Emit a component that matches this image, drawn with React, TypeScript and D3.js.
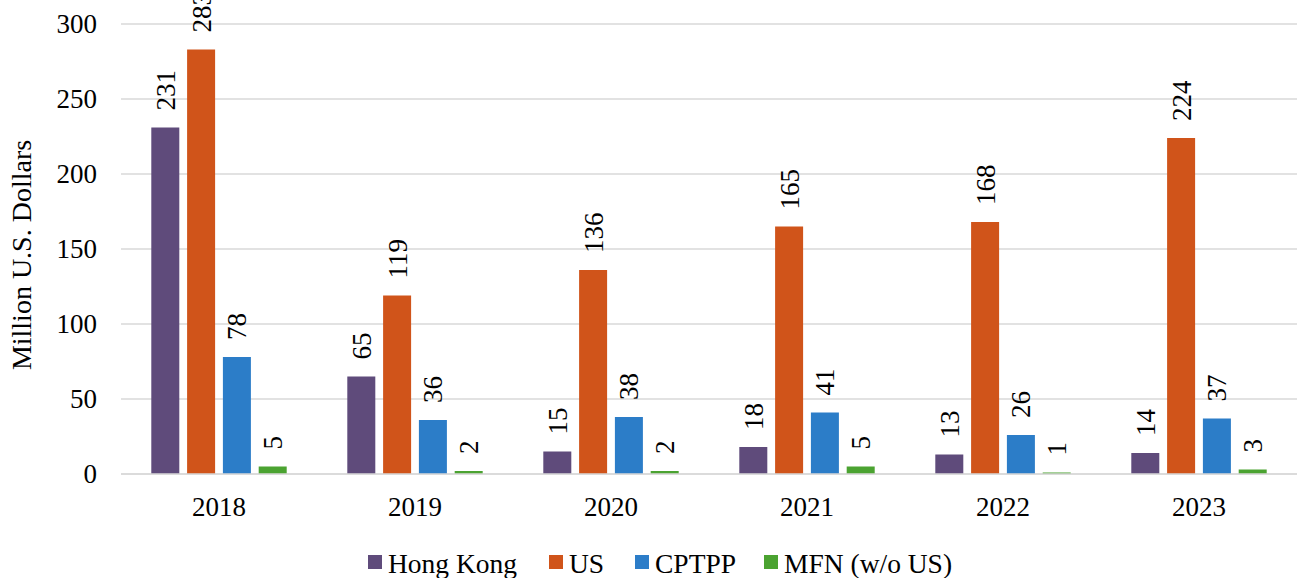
import React from "react";
import * as d3 from "d3";

const years = ["2018", "2019", "2020", "2021", "2022", "2023"];
const seriesNames = ["Hong Kong", "US", "CPTPP", "MFN (w/o US)"];
const hongKong = [231, 65, 15, 18, 13, 14];
const us = [283, 119, 136, 165, 168, 224];
const cptpp = [78, 36, 38, 41, 26, 37];
const mfn = [5, 2, 2, 5, 1, 3];
const colors = ["#5F4B7B", "#D0541A", "#2C7DC8", "#4BA331"];
const yTicks = [0, 50, 100, 150, 200, 250, 300];

export default function App() {
  const W = 1298, H = 578;
  const left = 121, right = 1297, top = 24, bottom = 474;
  const seriesValues = [hongKong, us, cptpp, mfn];
  const x = d3.scaleBand().domain(years).range([left, right]).padding(0);
  const y = d3.scaleLinear().domain([0, 300]).range([bottom, top]);
  const barW = 28;
  const step = 35.8;
  const groupW = step * 3 + barW;
  const font = "'Liberation Serif', 'Times New Roman', serif";
  const fs = 27;
  const legendX = [368, 549, 635, 764];
  const ts = { fontFamily: font, fontSize: fs, fill: "#000" } as React.CSSProperties;

  return (
    <svg width={W} height={H} style={{ position: "absolute", left: 0, top: 0 }}>
      {yTicks.map((t) => (
        <g key={t}>
          <line x1={left} x2={right} y1={y(t)} y2={y(t)} stroke="#D9D9D9" strokeWidth={1.5} />
          <text x={97} y={y(t)} textAnchor="end" dominantBaseline="central" style={ts}>
            {t}
          </text>
        </g>
      ))}
      {years.map((yr, i) => {
        const cx = (x(yr) as number) + x.bandwidth() / 2;
        const gx = cx - groupW / 2;
        return (
          <g key={yr}>
            {seriesValues.map((vals, s) => {
              const bx = gx + s * step;
              const v = vals[i];
              const by = y(v);
              const lx = bx + barW / 2;
              const ly = by - 17;
              return (
                <g key={s}>
                  <rect x={bx} y={by} width={barW} height={bottom - by} fill={colors[s]} />
                  <g transform={`translate(${lx},${ly}) rotate(-90)`}>
                    <text x={0} y={0} textAnchor="start" dy="0.35em" style={ts}>
                      {v}
                    </text>
                  </g>
                </g>
              );
            })}
            <text x={cx} y={507} textAnchor="middle" dominantBaseline="central" style={ts}>
              {yr}
            </text>
          </g>
        );
      })}
      <line x1={left} x2={right} y1={bottom} y2={bottom} stroke="#D9D9D9" strokeWidth={1.5} />
      <text
        transform={`translate(21,255) rotate(-90)`}
        textAnchor="middle"
        dominantBaseline="central"
        style={{ ...ts, fontSize: 28 }}
      >
        Million U.S. Dollars
      </text>
      {seriesNames.map((n, s) => (
        <g key={n}>
          <rect x={legendX[s]} y={555} width={14} height={14} fill={colors[s]} />
          <text x={legendX[s] + 20} y={563} dominantBaseline="central" style={{ ...ts, fontSize: 27.5 }}>
            {n}
          </text>
        </g>
      ))}
    </svg>
  );
}
